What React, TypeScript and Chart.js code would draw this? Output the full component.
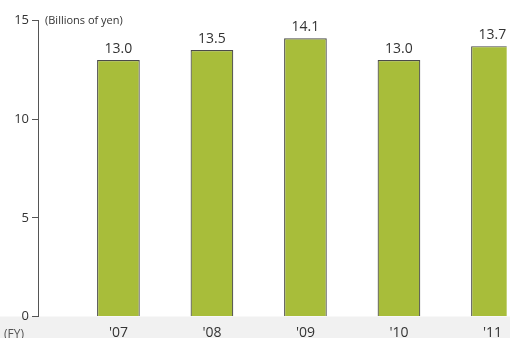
import React, { useEffect, useRef } from "react";
import { Chart, registerables } from "chart.js";

Chart.register(...registerables);

const categories = ["'07", "'08", "'09", "'10", "'11"];
const positions = [0, 1, 2, 3, 4];
const values = [13.0, 13.5, 14.1, 13.0, 13.7];
const yTicks = [0, 5, 10, 15];
const unitLabel = "(Billions of yen)";
const fyLabel = "(FY)";

const FONT = "'Open Sans', 'Noto Sans', sans-serif";

const decorPlugin = {
  id: "decor",
  beforeDraw(chart: any) {
    const { ctx, chartArea } = chart;
    ctx.save();
    ctx.fillStyle = "#f1f1f1";
    ctx.fillRect(0, chartArea.bottom, chart.width, chart.height - chartArea.bottom);
    ctx.restore();
  },
  afterDraw(chart: any) {
    const { ctx, chartArea } = chart;
    const meta = chart.getDatasetMeta(0);
    ctx.save();
    ctx.fillStyle = "#333";
    ctx.font = `14px ${FONT}`;
    ctx.textAlign = "center";
    ctx.textBaseline = "bottom";
    meta.data.forEach((el: any, i: number) => {
      ctx.fillText(values[i].toFixed(1), el.x, el.y - 4);
    });
    ctx.font = `11px ${FONT}`;
    ctx.textAlign = "left";
    ctx.textBaseline = "middle";
    ctx.fillText(unitLabel, chartArea.left + 7, chartArea.top);
    ctx.fillStyle = "#555";
    ctx.font = `12px ${FONT}`;
    ctx.textAlign = "left";
    ctx.textBaseline = "middle";
    ctx.fillText(fyLabel, 4, chartArea.bottom + 18);
    ctx.restore();
  },
};

export default function App() {
  const ref = useRef<HTMLCanvasElement>(null);
  useEffect(() => {
    if (!ref.current) return;
    const chart = new Chart(ref.current, {
      type: "bar",
      data: {
        datasets: [
          {
            data: positions.map((p, i) => ({ x: p, y: values[i] })),
            backgroundColor: "#a8bd3a",
            borderColor: "#4a4a4a",
            borderWidth: { top: 1.2, left: 1.2, right: 1.2, bottom: 0 },
            borderSkipped: false,
            categoryPercentage: 1,
            barPercentage: 0.4566,
          },
        ],
      },
      options: {
        animation: false,
        responsive: false,
        maintainAspectRatio: false,
        layout: { padding: { top: 20.5, right: 0, left: 0, bottom: 0 } },
        plugins: { legend: { display: false }, tooltip: { enabled: false } },
        scales: {
          x: {
            type: "linear",
            offset: false,
            min: -0.86,
            max: 4.152,
            grid: { display: false, drawTicks: false, offset: false },
            border: { display: false },
            afterBuildTicks: (scale: any) => {
              scale.ticks = positions.map((v) => ({ value: v }));
            },
            afterFit: (scale: any) => {
              scale.height = 21.5;
            },
            ticks: {
              autoSkip: false,
              maxRotation: 0,
              padding: 8,
              color: "#333",
              font: { family: FONT, size: 14 },
              callback: (v: any) => categories[positions.indexOf(Number(v))] ?? "",
            },
          },
          y: {
            min: 0,
            max: 15,
            afterBuildTicks: (scale: any) => {
              scale.ticks = yTicks.map((v) => ({ value: v }));
            },
            afterFit: (scale: any) => {
              scale.width = 38;
            },
            grid: {
              drawOnChartArea: false,
              drawTicks: true,
              tickLength: 6,
              color: "#555",
              lineWidth: 1,
            },
            border: { display: true, color: "#555", width: 1 },
            ticks: {
              padding: 3,
              color: "#333",
              font: { family: FONT, size: 13 },
            },
          },
        },
      },
      plugins: [decorPlugin],
    });
    return () => chart.destroy();
  }, []);
  return (
    <div style={{ position: "fixed", left: 0, top: 0, width: 510, height: 338, background: "#fff" }}>
      <canvas ref={ref} width={510} height={338} style={{ display: "block" }} />
    </div>
  );
}
